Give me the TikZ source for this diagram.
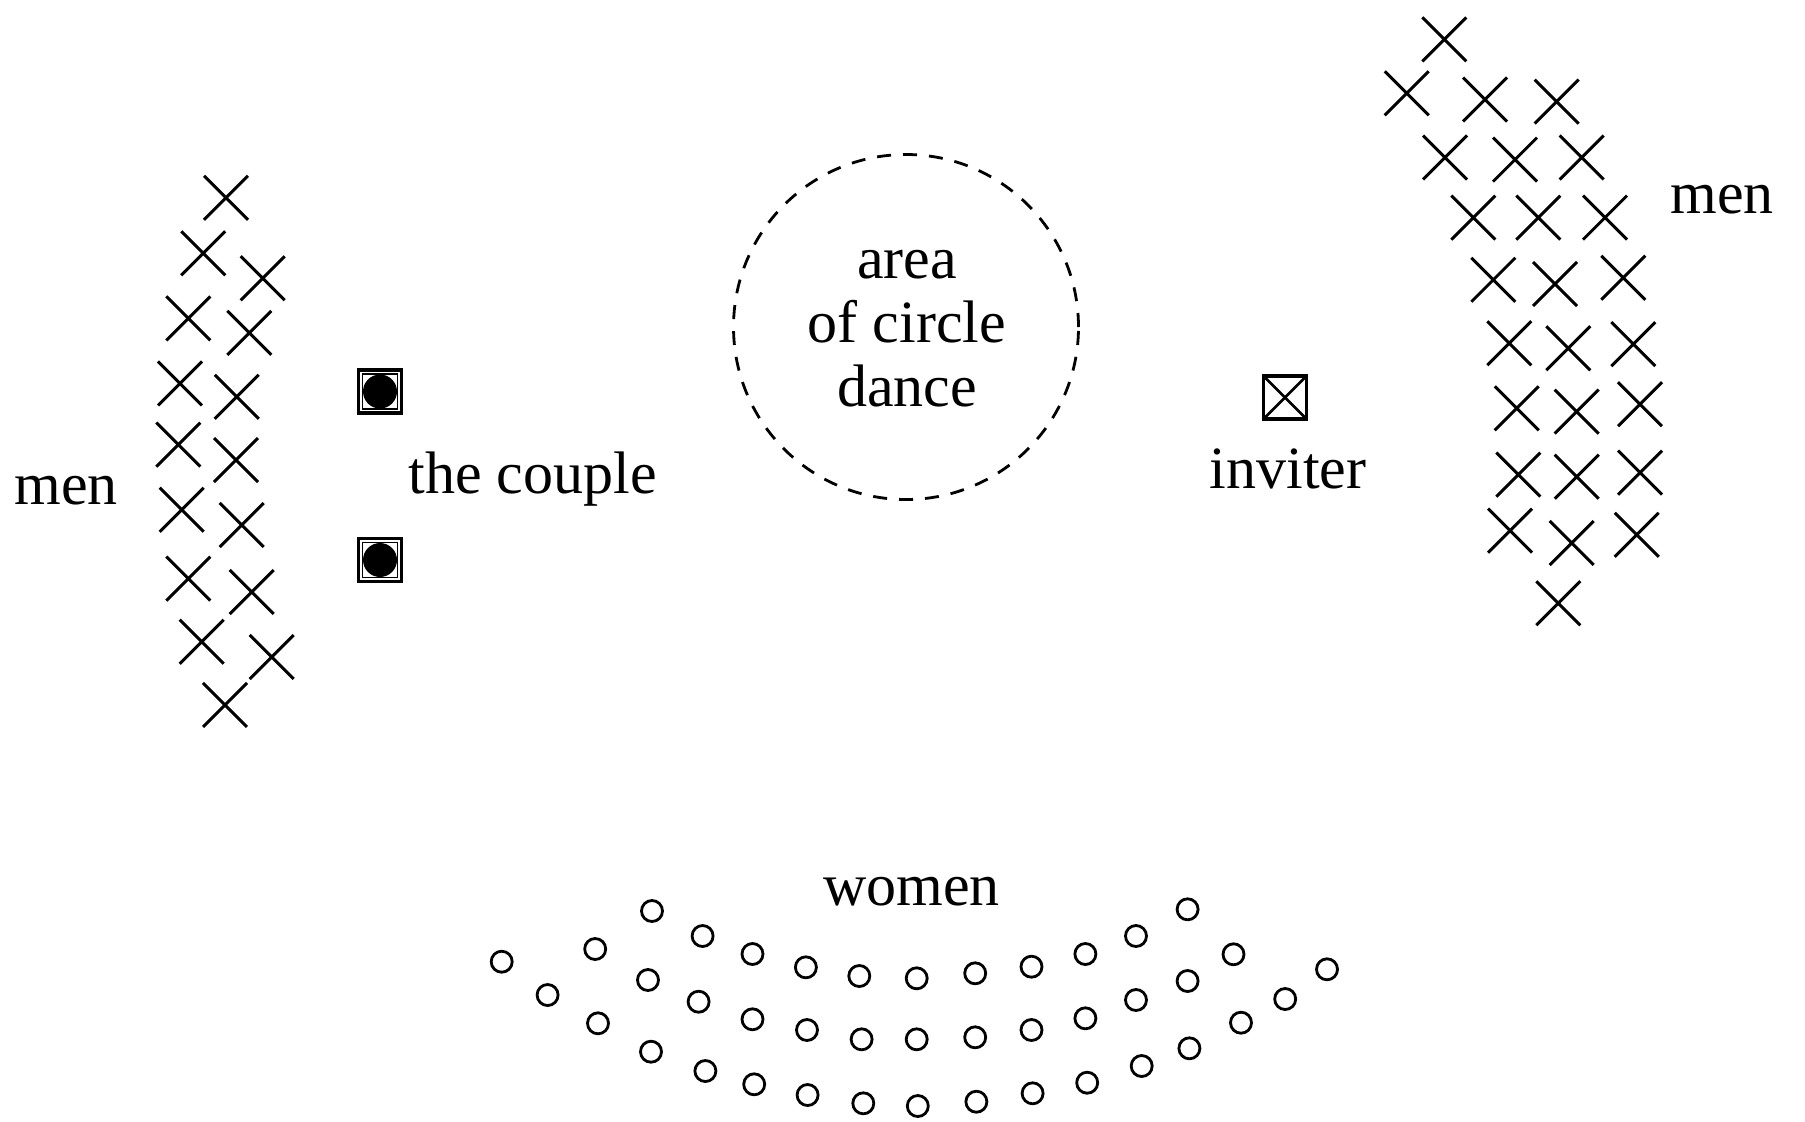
\documentclass[tikz,border=0pt]{standalone}
\usepackage{fontspec}
\setmainfont{Liberation Serif}
\usetikzlibrary{shapes.misc}
\begin{document}
\begin{tikzpicture}[x=0.5pt,y=-0.5pt,
  mancross/.style={cross out, draw, line width=1.5pt, minimum size=22pt, inner sep=0pt, outer sep=0pt},
  womancirc/.style={circle, draw, line width=1.4pt, minimum size=10.5pt, inner sep=0pt},
  txt/.style={inner sep=0pt, font=\fontsize{30}{32}\selectfont},
  couplebox/.style={rectangle, draw, line width=1.7pt, minimum size=21.5pt, inner sep=0pt,
    path picture={
      \draw[line width=0.6pt] ([shift={(-17.5,-17.5)}]path picture bounding box.center) rectangle ([shift={(17.5,17.5)}]path picture bounding box.center);
      \fill (path picture bounding box.center) circle[radius=17];
    }},
  inviterbox/.style={rectangle, draw, line width=1.7pt, minimum size=21.5pt, inner sep=0pt,
    path picture={
      \draw[line width=1.3pt] (path picture bounding box.north west) -- (path picture bounding box.south east);
      \draw[line width=1.3pt] (path picture bounding box.north east) -- (path picture bounding box.south west);
    }},
  dancearea/.style={circle, draw, line width=1.4pt, dash pattern=on 7pt off 6pt, minimum size=172.5pt, inner sep=0pt}
]
\fill[white] (0,0) rectangle (1805,1121);
\useasboundingbox (0,0) rectangle (1805,1121);

% left men
\foreach \px/\py [count=\i] in {226/197.8, 203.3/253.3, 262.7/278.2, 188.3/318.4, 249.3/332.9,
  180/383.4, 236.7/396.8, 178.3/444.6, 236/460, 181.7/509.7, 241.7/525, 188.3/578.6,
  251.7/592, 201.7/641.7, 271.7/657, 225/704.9}
  \node[mancross] (L\i) at (\px,\py) {};

% right men
\foreach \px/\py [count=\i] in {1444.3/39.4,
  1406.7/93.3, 1485/99.5, 1556.7/101.6,
  1445/157.5, 1515/159.6, 1581.7/157.5,
  1473.3/217.6, 1538.3/217.6, 1605/217.6,
  1493.3/279.8, 1555/284, 1623.3/277.7,
  1509.3/343.2, 1568.3/348.2, 1633.3/344.1,
  1516.7/408.3, 1576.7/411.6, 1640/404.2,
  1518.3/474.6, 1576.7/476.7, 1640/472.6,
  1510/530.6, 1571.7/543, 1636.7/534.8,
  1558.3/603.2}
  \node[mancross] (R\i) at (\px,\py) {};

% women
\foreach \px/\py [count=\i] in {501.7/961.7, 595.2/949, 652/911, 702.6/936, 752.5/954, 805.9/967.3,
  859.3/976, 916.7/978.3, 975.2/973.3, 1031.5/966.7, 1085.4/954, 1136/936, 1187.6/909.3,
  1233.5/954.3, 1327/969.3,
  547.6/995, 648/980, 698.6/1001.7, 752.5/1019.3, 807/1030, 861.6/1039.3, 916.7/1039.3,
  975.2/1037.3, 1031.5/1030, 1085.4/1018.3, 1136/1000, 1187.6/981, 1285.2/999,
  598/1023.3, 651/1051.7, 705.4/1071, 754.2/1084.3, 807.6/1095, 863.3/1103.3, 917.8/1106,
  976.4/1101.7, 1032.6/1093.3, 1087.2/1082.7, 1141.7/1066, 1189.4/1048.3, 1241/1022.7}
  \node[womancirc] (W\i) at (\px,\py) {};

% the couple
\node[couplebox] (c1) at (380,391.5) {};
\node[couplebox] (c2) at (380,560) {};

% inviter
\node[inviterbox] (inv) at (1285,397.5) {};

% dance area
\node[dancearea] (dance) at (906,327) {};

% labels
\node[txt, anchor=base west] (menL) at (14,504) {men};
\node[txt, anchor=base west] (menR) at (1670,213) {men};
\node[txt, anchor=base west] (couple) at (408,493) {the couple};
\node[txt, anchor=base] (area1) at (907,278) {area};
\node[txt, anchor=base] (area2) at (907,342) {of circle};
\node[txt, anchor=base] (area3) at (907,406) {dance};
\node[txt, anchor=base] (invlbl) at (1288,488) {inviter};
\node[txt, anchor=base] (womenlbl) at (911.5,905) {women};
\end{tikzpicture}
\end{document}
